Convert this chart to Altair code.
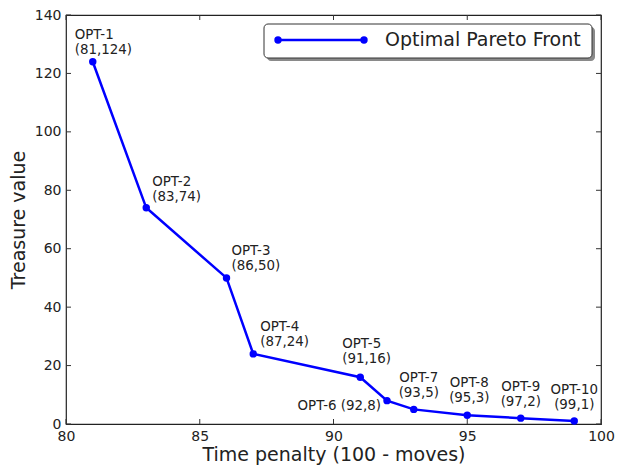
import altair as alt
import pandas as pd

# ---- data ----
labels = ["OPT-1", "OPT-2", "OPT-3", "OPT-4", "OPT-5",
          "OPT-6", "OPT-7", "OPT-8", "OPT-9", "OPT-10"]
time_penalty = [81, 83, 86, 87, 91, 92, 93, 95, 97, 99]
treasure = [124, 74, 50, 24, 16, 8, 5, 3, 2, 1]
x_ticks = [80, 85, 90, 95, 100]
y_ticks = [0, 20, 40, 60, 80, 100, 120, 140]
legend_label = "Optimal Pareto Front"

W, H = 535, 409
FONT = "DejaVu Sans"
BLUE = "#0000ff"
INK = "#222222"
LH = 15

df = pd.DataFrame({"label": labels, "x": time_penalty, "y": treasure})
xt = pd.DataFrame({"t": x_ticks})
yt = pd.DataFrame({"t": y_ticks})
one = pd.DataFrame({"k": [0]})

xs = alt.Scale(domain=[80, 100], nice=False, zero=False)
ys = alt.Scale(domain=[0, 140], nice=False, zero=False)

xaxis = alt.Axis(title="Time penalty (100 - moves)", values=x_ticks, ticks=False,
                 domain=False, grid=False, labelPadding=5, labelFontSize=14,
                 titleFontSize=19, titleFontWeight="normal", titlePadding=2,
                 labelFont=FONT, titleFont=FONT, labelColor=INK, titleColor=INK,
                 labelFlush=False)
yaxis = alt.Axis(title="Treasure value", values=y_ticks, ticks=False,
                 domain=False, grid=False, labelPadding=5, labelFontSize=14,
                 titleFontSize=19, titleFontWeight="normal", titlePadding=6,
                 labelFont=FONT, titleFont=FONT, labelColor=INK, titleColor=INK,
                 labelFlush=False)

base = alt.Chart(df)
X = alt.X("x:Q", scale=xs, axis=xaxis)
Y = alt.Y("y:Q", scale=ys, axis=yaxis)

line = base.mark_line(color=BLUE, strokeWidth=2.5).encode(x=X, y=Y)
pts = base.mark_circle(color=BLUE, opacity=1, size=55).encode(x=X, y=Y)

# ---- point labels: (align, dx, dy of last line bottom, baseline, multiline) ----
styles = {
    "OPT-1": ("left", -18, -5, "bottom", True),
    "OPT-2": ("left", 6, -4, "bottom", True),
    "OPT-3": ("left", 5, -5, "bottom", True),
    "OPT-4": ("left", 7, -5, "bottom", True),
    "OPT-5": ("left", -18, -11, "bottom", True),
    "OPT-6": ("right", -6, 5, "middle", False),
    "OPT-7": ("center", 5, -9, "bottom", True),
    "OPT-8": ("center", 2, -10, "bottom", True),
    "OPT-9": ("center", 0, -9, "bottom", True),
    "OPT-10": ("center", 0, -9, "bottom", True),
}
text_layers = []
for name, (al, dx, dy, bl, multi) in styles.items():
    sep = "'\\n('" if multi else "' ('"
    t = base.transform_filter(alt.datum.label == name).transform_calculate(
        txt="datum.label + " + sep + " + datum.x + ',' + datum.y + ')'"
    ).mark_text(align=al, baseline=bl, dx=dx, dy=dy - (LH if multi else 0),
                lineBreak="\n", lineHeight=LH, fontSize=13.4, font=FONT,
                color=INK).encode(
        x=alt.X("x:Q", scale=xs), y=alt.Y("y:Q", scale=ys), text="txt:N")
    text_layers.append(t)

# ---- inward ticks on all four sides ----
TK = 5
tick_col = "#333333"
tb = alt.Chart(xt).mark_rule(color=tick_col, strokeWidth=1).encode(
    x=alt.X("t:Q", scale=xs), y=alt.value(H), y2=alt.value(H - TK))
tt = alt.Chart(xt).mark_rule(color=tick_col, strokeWidth=1).encode(
    x=alt.X("t:Q", scale=xs), y=alt.value(0), y2=alt.value(TK))
tl = alt.Chart(yt).mark_rule(color=tick_col, strokeWidth=1).encode(
    y=alt.Y("t:Q", scale=ys), x=alt.value(0), x2=alt.value(TK))
tr = alt.Chart(yt).mark_rule(color=tick_col, strokeWidth=1).encode(
    y=alt.Y("t:Q", scale=ys), x=alt.value(W), x2=alt.value(W - TK))

# ---- legend box (upper right) ----
lx1 = W - 9
lx0 = lx1 - 328
ly0, ly1 = 9, 43
shadow = alt.Chart(one).mark_rect(color="#8a8a8a", cornerRadius=4).encode(
    x=alt.value(lx0 + 3), x2=alt.value(lx1 + 3), y=alt.value(ly0 + 3), y2=alt.value(ly1 + 3))
box = alt.Chart(one).mark_rect(fill="white", stroke="#333333", strokeWidth=1,
                               cornerRadius=4).encode(
    x=alt.value(lx0), x2=alt.value(lx1), y=alt.value(ly0), y2=alt.value(ly1))
ly = (ly0 + ly1) / 2 - 1
lline = alt.Chart(one).mark_rule(color=BLUE, strokeWidth=2.5).encode(
    x=alt.value(lx0 + 14), x2=alt.value(lx0 + 100), y=alt.value(ly))
ldot1 = alt.Chart(one).mark_circle(color=BLUE, opacity=1, size=55).encode(
    x=alt.value(lx0 + 14), y=alt.value(ly))
ldot2 = alt.Chart(one).mark_circle(color=BLUE, opacity=1, size=55).encode(
    x=alt.value(lx0 + 100), y=alt.value(ly))
ltext = alt.Chart(one).mark_text(align="left", baseline="middle", fontSize=19,
                                 font=FONT, color=INK).encode(
    x=alt.value(lx0 + 121), y=alt.value(ly), text=alt.value(legend_label))

chart = alt.layer(
    line, pts, *text_layers, tb, tt, tl, tr,
    shadow, box, lline, ldot1, ldot2, ltext
).properties(
    width=W, height=H,
    autosize=alt.AutoSizeParams(type="none"),
    padding={"left": 58, "top": 7, "right": 16, "bottom": 41},
    background="white",
).configure_view(stroke="#222222", strokeWidth=1.2)

chart.save("out.html", embed_options={"renderer": "svg", "actions": False})
